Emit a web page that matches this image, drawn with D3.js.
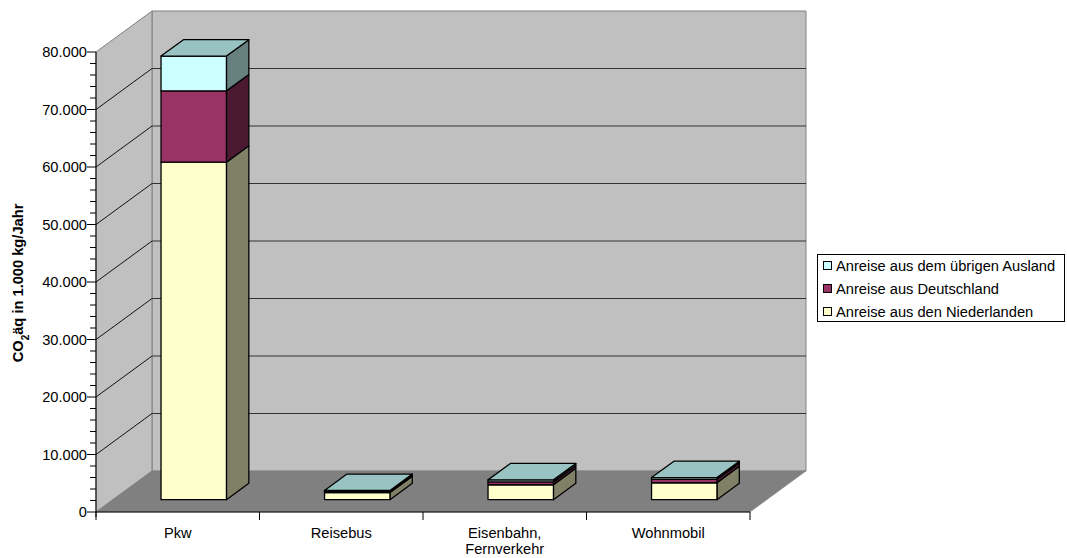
<!DOCTYPE html>
<html>
<head>
<meta charset="utf-8">
<script src="https://cdn.jsdelivr.net/npm/d3@7"></script>
<style>
  body { margin: 0; background: #fff; }
  svg { display: block; font-family: Arial, "Liberation Sans", sans-serif; }
</style>
</head>
<body>
<svg id="chart" width="1067" height="558"></svg>
<script>
// Categories (line breaks split the axis label)
const categories = ["Pkw", "Reisebus", "Eisenbahn,\nFernverkehr", "Wohnmobil"];

// Stacked series, bottom to top (1.000 kg CO2-equivalent per year)
const seriesNames = [
  "Anreise aus den Niederlanden",
  "Anreise aus Deutschland",
  "Anreise aus dem übrigen Ausland"
];
const niederlande = [58700, 1250, 2600, 2950];
const deutschland = [12400, 200, 500, 600];
const ausland     = [6050, 150, 350, 300];

const yTicks = [0, 10000, 20000, 30000, 40000, 50000, 60000, 70000, 80000];

// Face colours: front, side (shaded), top (lightly shaded)
const colors = [
  { front: "#FFFFCC", side: "#808066", top: "#BFBF99" },
  { front: "#993366", side: "#4C1933", top: "#732650" },
  { front: "#CCFFFF", side: "#668080", top: "#99C2C2" }
];

const svg = d3.select("#chart");

// Front plane of the 3-D box
const x0 = 96, x1 = 750, yBase = 512, yTopPx = 52;
const DX = 56, DY = -41;          // full depth offset of the box
const f0 = 0.3, f1 = 0.7;         // depth range occupied by the columns

const x = d3.scaleBand().domain(categories).range([x0, x1]).padding(0);
const y = d3.scaleLinear().domain([0, 80000]).range([yBase, yTopPx]);

const de = d3.formatLocale({ decimal: ",", thousands: ".", grouping: [3], currency: ["", "€"] });
const fmt = de.format(",");

const P = (px, py, f) => [px + f * DX, py + f * DY];
const poly = pts => pts.map(p => p.join(",")).join(" ");

// Walls and floor
const g = svg.append("g");
g.append("polygon") // back wall
  .attr("points", poly([P(x0, yTopPx, 1), P(x1, yTopPx, 1), P(x1, yBase, 1), P(x0, yBase, 1)]))
  .attr("fill", "#C0C0C0").attr("stroke", "#808080").attr("stroke-width", 1);
g.append("polygon") // left wall
  .attr("points", poly([P(x0, yTopPx, 0), P(x0, yTopPx, 1), P(x0, yBase, 1), P(x0, yBase, 0)]))
  .attr("fill", "#C0C0C0").attr("stroke", "#808080").attr("stroke-width", 1);

// Gridlines on back and left walls
const gridVals = yTicks.filter(v => v > 0 && v < 80000);
g.selectAll("line.gb").data(gridVals).join("line")
  .attr("x1", P(x0, 0, 1)[0]).attr("x2", P(x1, 0, 1)[0])
  .attr("y1", d => P(0, y(d), 1)[1]).attr("y2", d => P(0, y(d), 1)[1])
  .attr("stroke", "#333").attr("stroke-width", 1);
g.selectAll("line.gl").data(gridVals).join("line")
  .attr("x1", x0).attr("y1", d => y(d))
  .attr("x2", P(x0, 0, 1)[0]).attr("y2", d => P(0, y(d), 1)[1])
  .attr("stroke", "#111").attr("stroke-width", 1);

g.append("polygon") // floor
  .attr("points", poly([P(x0, yBase, 0), P(x1, yBase, 0), P(x1, yBase, 1), P(x0, yBase, 1)]))
  .attr("fill", "#808080").attr("stroke", "#808080").attr("stroke-width", 0.5);

// Stacked 3-D columns
const seriesData = [niederlande, deutschland, ausland];
const bars = svg.append("g")
  .attr("stroke", "#000").attr("stroke-width", 1.3).attr("stroke-linejoin", "round");

categories.forEach((c, i) => {
  const bl = x(c) + x.bandwidth() * 0.295;
  const br = x(c) + x.bandwidth() * 0.695;
  let cum = 0;
  const segs = seriesData.map((s, k) => {
    const seg = { k, v0: cum, v1: cum + s[i] };
    cum += s[i];
    return seg;
  });
  const cg = bars.append("g");
  segs.forEach(s => {
    // side face
    cg.append("polygon")
      .attr("points", poly([P(br, y(s.v0), f0), P(br, y(s.v0), f1), P(br, y(s.v1), f1), P(br, y(s.v1), f0)]))
      .attr("fill", colors[s.k].side);
  });
  segs.forEach(s => {
    const a = P(bl, y(s.v1), f0), b = P(br, y(s.v0), f0);
    cg.append("rect")
      .attr("x", a[0]).attr("y", a[1])
      .attr("width", b[0] - a[0]).attr("height", Math.max(0, b[1] - a[1]))
      .attr("fill", colors[s.k].front);
  });
  const top = segs[segs.length - 1];
  cg.append("polygon")
    .attr("points", poly([P(bl, y(cum), f0), P(br, y(cum), f0), P(br, y(cum), f1), P(bl, y(cum), f1)]))
    .attr("fill", colors[top.k].top);
});

// Value axis
const ax = svg.append("g");
ax.append("line").attr("x1", x0).attr("x2", x0).attr("y1", yTopPx).attr("y2", yBase + 5)
  .attr("stroke", "#000").attr("stroke-width", 1);
const minor = d3.range(0, 80001, 2000).filter(v => v % 10000 !== 0);
ax.selectAll("line.mi").data(minor).join("line")
  .attr("x1", x0 - 6).attr("x2", x0).attr("y1", d => y(d)).attr("y2", d => y(d))
  .attr("stroke", "#000").attr("stroke-width", 1);
ax.selectAll("line.ma").data(yTicks).join("line")
  .attr("x1", x0 - 9).attr("x2", x0).attr("y1", d => y(d)).attr("y2", d => y(d))
  .attr("stroke", "#000").attr("stroke-width", 1);
ax.selectAll("text").data(yTicks).join("text")
  .attr("x", x0 - 9).attr("y", d => y(d)).attr("dy", "0.35em")
  .attr("text-anchor", "end").attr("font-size", "14.67px").attr("fill", "#000")
  .text(d => fmt(d));

// Axis title
const t = svg.append("text")
  .attr("transform", "translate(23,283) rotate(-90)")
  .attr("text-anchor", "middle").attr("font-size", "14.67px").attr("font-weight", "bold");
t.append("tspan").text("CO");
t.append("tspan").text("2").attr("font-size", "10px").attr("baseline-shift", "sub");
t.append("tspan").text("äq in 1.000 kg/Jahr");

// Category axis
const cx = svg.append("g");
cx.append("line").attr("x1", x0).attr("x2", x1).attr("y1", yBase).attr("y2", yBase)
  .attr("stroke", "#000").attr("stroke-width", 1);
const bounds = categories.map(c => x(c)).concat([x1]);
cx.selectAll("line.tk").data(bounds).join("line")
  .attr("x1", d => d).attr("x2", d => d).attr("y1", yBase).attr("y2", yBase + 8)
  .attr("stroke", "#000").attr("stroke-width", 1);
categories.forEach(c => {
  const lbl = cx.append("text")
    .attr("x", x(c) + x.bandwidth() / 2).attr("y", 538)
    .attr("text-anchor", "middle").attr("font-size", "14.67px").attr("fill", "#000");
  c.split("\n").forEach((line, j) => {
    lbl.append("tspan").attr("x", x(c) + x.bandwidth() / 2).attr("dy", j ? 16 : 0).text(line);
  });
});

// Legend (top-most series first)
const lg = svg.append("g");
lg.append("rect").attr("x", 817.5).attr("y", 254.5).attr("width", 247).attr("height", 67)
  .attr("fill", "#fff").attr("stroke", "#000").attr("stroke-width", 1);
const legendOrder = [2, 1, 0];
legendOrder.forEach((k, j) => {
  const cyv = 266 + j * 23;
  lg.append("rect").attr("x", 823.5).attr("y", cyv - 4.5).attr("width", 8).attr("height", 8)
    .attr("fill", colors[k].front).attr("stroke", "#000").attr("stroke-width", 1);
  lg.append("text").attr("x", 836).attr("y", cyv).attr("dy", "0.35em")
    .attr("font-size", "14.67px").attr("fill", "#000").text(seriesNames[k]);
});
</script>
</body>
</html>
